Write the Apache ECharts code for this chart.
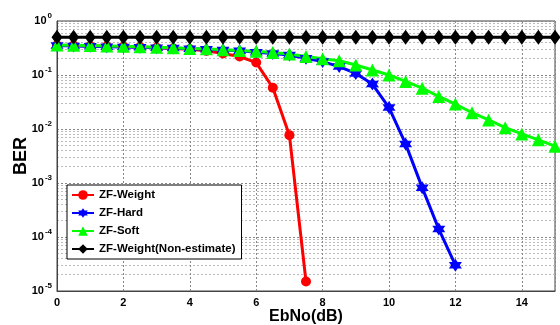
<!DOCTYPE html>
<html>
<head>
<meta charset="utf-8">
<script src="https://cdn.jsdelivr.net/npm/echarts@6/dist/echarts.min.js"></script>
<style>
  html, body { margin: 0; padding: 0; background: #fff; }
  #chart { width: 560px; height: 325px; }
</style>
</head>
<body>
<div id="chart"></div>
<script>
// EbNo (dB), step 0.5
const ebno = [0, 0.5, 1, 1.5, 2, 2.5, 3, 3.5, 4, 4.5, 5, 5.5, 6, 6.5, 7, 7.5,
  8, 8.5, 9, 9.5, 10, 10.5, 11, 11.5, 12, 12.5, 13, 13.5, 14, 14.5, 15];

const zfWeight = [0.355, 0.35, 0.345, 0.34, 0.335, 0.33, 0.32, 0.31, 0.3, 0.28,
  0.25, 0.22, 0.17, 0.058, 0.0077, 0.000015];
const zfHard = [0.35, 0.345, 0.34, 0.335, 0.33, 0.325, 0.32, 0.315, 0.305, 0.3,
  0.29, 0.28, 0.265, 0.25, 0.235, 0.205, 0.177, 0.143, 0.107, 0.068,
  0.025, 0.0053, 0.00082, 0.00014, 0.00003];
const zfSoft = [0.36, 0.355, 0.35, 0.345, 0.34, 0.335, 0.325, 0.32, 0.31, 0.305,
  0.295, 0.285, 0.275, 0.26, 0.245, 0.22, 0.2, 0.184, 0.153, 0.124,
  0.1, 0.076, 0.057, 0.04, 0.029, 0.02, 0.0147, 0.0106, 0.0081, 0.0063, 0.0048];
const zfNonEst = [0.5, 0.5, 0.5, 0.5, 0.5, 0.5, 0.5, 0.5, 0.5, 0.5,
  0.5, 0.5, 0.5, 0.5, 0.5, 0.5, 0.5, 0.5, 0.5, 0.5,
  0.5, 0.5, 0.5, 0.5, 0.5, 0.5, 0.5, 0.5, 0.5, 0.5, 0.5];

const seriesNames = ["ZF-Weight", "ZF-Hard", "ZF-Soft", "ZF-Weight(Non-estimate)"];
const seriesColors = ["#ff0000", "#0000ff", "#00ff00", "#000000"];

// six-pointed star like matlab 'h' (single outline so it fills solid)
const hexagram = "path://M0,-10L2.887,-5L8.66,-5L5.774,0L8.66,5L2.887,5L0,10" +
  "L-2.887,5L-8.66,5L-5.774,0L-8.66,-5L-2.887,-5Z";

const pairs = (ys) => ys.map((y, i) => [ebno[i], y]);

const chart = echarts.init(document.getElementById("chart"));

const font = "Arial, 'Liberation Sans', sans-serif";

const mkSeries = (i, data, symbol, size) => ({
  name: seriesNames[i],
  type: "line",
  data: pairs(data),
  symbol: symbol,
  symbolSize: size,
  showAllSymbol: true,
  lineStyle: { width: 3, color: seriesColors[i] },
  itemStyle: { color: seriesColors[i] },
  animation: false,
});

const option = {
  backgroundColor: "#fff",
  grid: {
    left: 57, right: 5, top: 21, bottom: 34,
    outerBoundsMode: "none",
    containLabel: false,
    show: true, borderColor: "#444", borderWidth: 1,
  },
  legend: {
    orient: "vertical",
    left: 67, top: 185,
    backgroundColor: "#fff",
    borderColor: "#000",
    borderWidth: 1,
    borderRadius: 0,
    padding: [4, 6, 4, 4],
    itemGap: 6,
    itemWidth: 22,
    itemHeight: 12,
    textStyle: { fontFamily: font, fontWeight: "bold", fontSize: 11.5, color: "#000" },
    data: seriesNames,
  },
  xAxis: {
    type: "value",
    min: 0, max: 15, interval: 2,
    name: "EbNo(dB)",
    nameLocation: "middle",
    nameGap: 18,
    nameMoveOverlap: false,
    nameTextStyle: { fontFamily: font, fontWeight: "bold", fontSize: 16, color: "#000" },
    axisLine: { lineStyle: { color: "#444" } },
    axisTick: { show: false },
    axisLabel: {
      showMaxLabel: false, margin: 6,
      fontFamily: font, fontWeight: "bold", fontSize: 11, color: "#000",
    },
    splitLine: { lineStyle: { type: [2, 2], color: "#888" } },
  },
  yAxis: {
    type: "log",
    logBase: 10,
    min: 0.00001, max: 1,
    name: "BER",
    nameLocation: "middle",
    nameGap: 27,
    nameMoveOverlap: false,
    nameTextStyle: { fontFamily: font, fontWeight: "bold", fontSize: 18, color: "#000" },
    axisLine: { lineStyle: { color: "#444" } },
    axisTick: { show: false },
    axisLabel: {
      margin: 5,
      formatter: (v) => "10{sup|" + Math.round(Math.log10(v)) + "}",
      fontFamily: font, fontWeight: "bold", fontSize: 11, color: "#000",
      rich: {
        sup: { fontFamily: font, fontWeight: "bold", fontSize: 8, verticalAlign: "top", padding: [0, 0, 10, 1], color: "#000" },
      },
    },
    splitLine: { lineStyle: { type: [2, 2], color: "#888" } },
    minorTick: { show: false, splitNumber: 9 },
    minorSplitLine: { show: true, lineStyle: { type: [2, 2], color: "#bbb" } },
  },
  series: [
    mkSeries(0, zfWeight, "circle", 10),
    mkSeries(1, zfHard, hexagram, 13),
    mkSeries(2, zfSoft, "triangle", 13),
    mkSeries(3, zfNonEst, "diamond", [11, 15]),
  ],
};

chart.setOption(option);
</script>
</body>
</html>
